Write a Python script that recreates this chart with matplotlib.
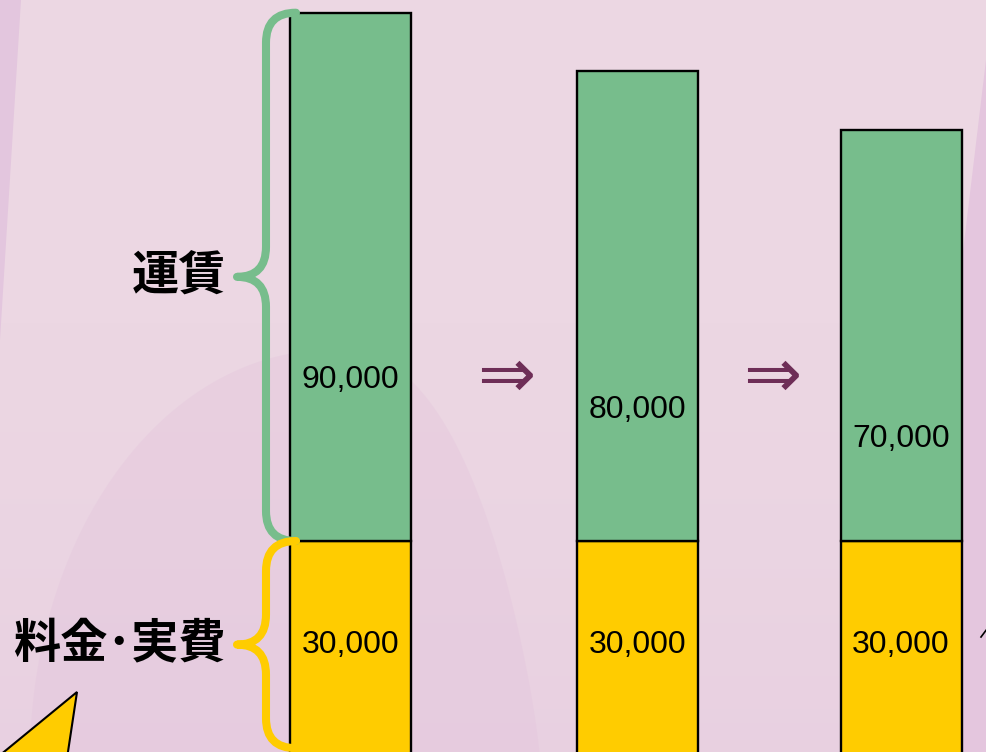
import matplotlib
matplotlib.use('Agg')

import matplotlib.pyplot as plt
import numpy as np
from matplotlib.path import Path
from matplotlib.patches import PathPatch, Polygon

# --- data ---
base_fee = [30000, 30000, 30000]      # 料金・実費
fare = [90000, 80000, 70000]          # 運賃
brace_labels = ['運賃', '料金･実費']

# --- layout (pixels of the 986x752 slide crop) ---
W, H = 986, 752
bar_x = [350.5, 637.5, 901]
bar_w = 121
y_per_px = 1000 / 5.87                 # value units per pixel
split_px = 541                         # pixel row of the 30,000 boundary
y_top = base_fee[0] + split_px * y_per_px
y_bot = base_fee[0] - (H - split_px) * y_per_px
bar_floor = -6400                      # bars run off the bottom of the crop
label_floor = -5300

GREEN = '#77BD8C'
YELLOW = '#FFCC00'
BG = '#ECD7E3'
ARROW = '#6E2E57'

fig = plt.figure(figsize=(W / 100, H / 100), dpi=100)
fig.patch.set_facecolor(BG)

# background decoration in pixel coords
bg = fig.add_axes([0, 0, 1, 1], zorder=0)
bg.set_xlim(0, W)
bg.set_ylim(H, 0)
bg.axis('off')
# soft vertical shading towards the bottom
grad = np.linspace(0, 1, 200)[:, None] ** 1.5
bg.imshow(np.dstack([np.full_like(grad, 0.89), np.full_like(grad, 0.77), np.full_like(grad, 0.87), grad * 0.35]),
          extent=[0, W, H, 300], aspect='auto', zorder=0)
bg.add_patch(Polygon([(0, 0), (21, 0), (0, 340)], closed=True, fc='#E3C6DE', ec='none'))
phi = np.linspace(0, np.pi / 2, 60)
dome_l = np.column_stack([330 - 300 * np.cos(phi), 760 - 410 * np.sin(phi)])
psi = np.linspace(np.pi / 2, 0, 60)
dome_r = np.column_stack([330 + 210 * np.cos(psi) ** 0.8, 760 - 410 * np.sin(psi) ** 1.6])
bg.add_patch(Polygon(np.vstack([dome_l, dome_r]), closed=True, fc='#E3C3DC', ec='none', alpha=0.35))
bg.add_patch(Polygon([(962, 260), (986, 60), (986, 752), (962, 752)], closed=True,
                     fc='#E4C6DE', ec='none'))
bg.add_patch(Polygon([(77, 692), (66, 765), (-12, 765)], closed=True, fc=YELLOW, ec='black', lw=1.5))
bg.plot([981, 987], [637, 629], color='black', lw=1.2)
bg.set_xlim(0, W)
bg.set_ylim(H, 0)

# main chart
ax = fig.add_axes([0, 0, 1, 1], zorder=1)
ax.patch.set_alpha(0)
ax.set_xlim(0, W)
ax.set_ylim(y_bot, y_top)
ax.axis('off')

base_arr = np.array(base_fee)
fare_arr = np.array(fare)
ax.bar(bar_x, base_arr - bar_floor, bottom=bar_floor, width=bar_w,
       color=YELLOW, edgecolor='black', linewidth=1.7)
ax.bar(bar_x, fare_arr, bottom=base_arr, width=bar_w,
       color=GREEN, edgecolor='black', linewidth=1.7)

num_font = dict(family='Liberation Sans', fontsize=23, color='black', ha='center', va='center')
for x, b, f in zip(bar_x, base_arr, fare_arr):
    ax.text(x, (b + f + label_floor) / 2, f'{f:,}', **num_font)
    ax.text(x, (b + label_floor) / 2, f'{b:,}', **num_font)

# arrows between bars
for xa in [506, 772]:
    ax.text(xa / W, 1 - 377 / H, '⇒', transform=ax.transAxes, fontsize=50,
            color=ARROW, ha='center', va='center', family='DejaVu Sans')


def brace(y0, y1, color, x_end=296, x_line=266, x_tip=237, r=30):
    ry = r * y_per_px
    ym = (y0 + y1) / 2
    verts = [(x_end, y1), (x_line, y1), (x_line, y1 - ry),
             (x_line, ym + ry), (x_line, ym), (x_tip, ym),
             (x_line, ym), (x_line, ym - ry),
             (x_line, y0 + ry), (x_line, y0), (x_end, y0)]
    codes = [Path.MOVETO, Path.CURVE3, Path.CURVE3,
             Path.LINETO, Path.CURVE3, Path.CURVE3,
             Path.CURVE3, Path.CURVE3,
             Path.LINETO, Path.CURVE3, Path.CURVE3]
    ax.add_patch(PathPatch(Path(verts, codes), fc='none', ec=color, lw=5.8,
                           capstyle='round', joinstyle='round', zorder=3))
    return ym


ym_fare = brace(base_fee[0], base_fee[0] + fare[0], GREEN)
ym_base = brace(label_floor, base_fee[0], YELLOW)

jp_font = dict(family=['Noto Sans CJK JP', 'DejaVu Sans'], fontsize=34,
               fontweight='bold', color='black', ha='right', va='center')
ax.text(226, ym_fare, brace_labels[0], **jp_font)
ax.text(226, ym_base, brace_labels[1], **jp_font)

fig.savefig('out.png', dpi=100, facecolor=fig.get_facecolor())
